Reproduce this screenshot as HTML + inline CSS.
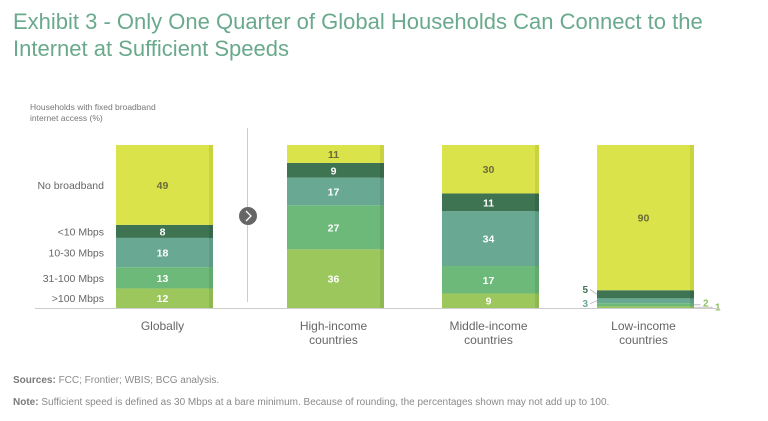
<!DOCTYPE html>
<html><head><meta charset="utf-8">
<style>
body{margin:0;background:#fff;width:768px;height:421px;overflow:hidden;font-family:"Liberation Sans",sans-serif;}
#title{position:absolute;left:13px;top:8px;font-size:22px;line-height:27px;color:#6aa98d;}
svg{position:absolute;left:0;top:0;}
.foot{position:absolute;left:13px;font-size:10px;color:#8a8a8a;}
.foot b{color:#7a7a7a;}
</style></head><body>
<div id="title">Exhibit 3 - Only One Quarter of Global Households Can Connect to the<br>Internet at Sufficient Speeds</div>
<svg id="chart" width="768" height="421"></svg>
<div class="foot" style="top:375px"><b>Sources:</b> FCC; Frontier; WBIS; BCG analysis.</div>
<div class="foot" style="top:397px"><b>Note:</b> Sufficient speed is defined as 30 Mbps at a bare minimum. Because of rounding, the percentages shown may not add up to 100.</div>
<script>
const categories=[["Globally"],["High-income","countries"],["Middle-income","countries"],["Low-income","countries"]];
const seriesNames=[">100 Mbps","31-100 Mbps","10-30 Mbps","<10 Mbps","No broadband"];
const s100=[12,36,9,1];
const s31=[13,27,17,2];
const s10=[18,17,34,3];
const sLt10=[8,9,11,5];
const sNone=[49,11,30,90];
const series=[s100,s31,s10,sLt10,sNone];
const colors=["#9cc75c","#6db97a","#69a892","#3f7453","#dae34a"];
const edge=["#8fb852","#62aa6e","#5f9a85","#386849","#c9d23f"];
const textCol=["#fff","#fff","#fff","#fff","#6b6b3a"];
const NS="http://www.w3.org/2000/svg";
const svg=document.getElementById('chart');
const base=308,top0=145,barW=97;
const barX=[116,287,442,597];
function mk(t,a){const e=document.createElementNS(NS,t);for(const k in a)e.setAttribute(k,a[k]);svg.appendChild(e);return e;}
let t=mk('text',{x:30,y:110,'font-size':8.5,fill:'#777'});t.textContent="Households with fixed broadband";


t=mk('text',{x:30,y:121,'font-size':8.5,fill:'#777'});t.textContent="internet access (%)";


// callout offsets per series index for small segments: [dx from anchor, dy label]
const calloutCfg={3:{side:'L',dy:-5},2:{side:'L',dy:3},1:{side:'R',dx:8,dy:-2},0:{side:'R',dx:20,dy:0}};
const calloutCol={3:'#3f7453',2:'#69a892',1:'#8fc160',0:'#8fc160'};
categories.forEach((cat,i)=>{
  const tot=series.reduce((s,a)=>s+a[i],0);
  const sc=(base-top0)/tot;
  let y=base;
  series.forEach((arr,j)=>{
    const h=arr[i]*sc;y-=h;
    const r=mk('rect',{x:barX[i],y:y,width:barW,height:h,fill:colors[j]});
    
    
    const r2=mk('rect',{x:barX[i]+barW-4,y:y,width:4,height:h,fill:edge[j]});
    
    
    if(h>9){
      const tx=mk('text',{x:barX[i]+barW/2-2,y:y+h/2+4,'font-size':10.5,'font-weight':'bold','text-anchor':'middle',fill:textCol[j]});
      tx.textContent=arr[i];
      
      
    } else {
      const cfg=calloutCfg[j];const my=y+h/2;
      let lx,ly=my+cfg.dy+3.5;
      if(cfg.side==='L'){
        lx=barX[i]-9;
        mk('line',{x1:lx+2,y1:ly-3.5,x2:barX[i],y2:my,stroke:'#aaa','stroke-width':0.7});
      } else {
        lx=barX[i]+barW+cfg.dx;
        mk('polyline',{points:(barX[i]+barW)+','+(my)+' '+(lx-2)+','+(my)+' '+(lx-2)+','+(ly-2),fill:'none',stroke:'#aaa','stroke-width':0.7});
        lx+=1;
      }
      const tx=mk('text',{x:lx,y:ly,'font-size':10,'font-weight':'bold','text-anchor':cfg.side==='L'?'end':'start',fill:calloutCol[j]});
      tx.textContent=arr[i];
      
      
    }
  });
  cat.forEach((ln,k)=>{
    const c=mk('text',{x:barX[i]+barW/2-2,y:330+k*14,'font-size':12,'text-anchor':'middle',fill:'#666'});
    c.textContent=ln;
    
    
  });
});
{
  const tot=series.reduce((s,a)=>s+a[0],0),sc=(base-top0)/tot;let y=base;
  series.forEach((arr,j)=>{const h=arr[0]*sc;y-=h;
    const l=mk('text',{x:104,y:y+h/2+4,'font-size':10.5,'text-anchor':'end',fill:'#666'});
    l.textContent=seriesNames[j];
    
    
  });
}
let ax=mk('line',{x1:35,y1:308.5,x2:720,y2:308.5,stroke:'#ccc','stroke-width':1});


let dv=mk('line',{x1:247.5,y1:128,x2:247.5,y2:302,stroke:'#ccc','stroke-width':1});


let ci=mk('circle',{cx:248,cy:216,r:9,fill:'#666'});


let ar=mk('polyline',{points:'246,211 251,216 246,221',fill:'none',stroke:'#fff','stroke-width':1.3});


</script>
</body></html>
